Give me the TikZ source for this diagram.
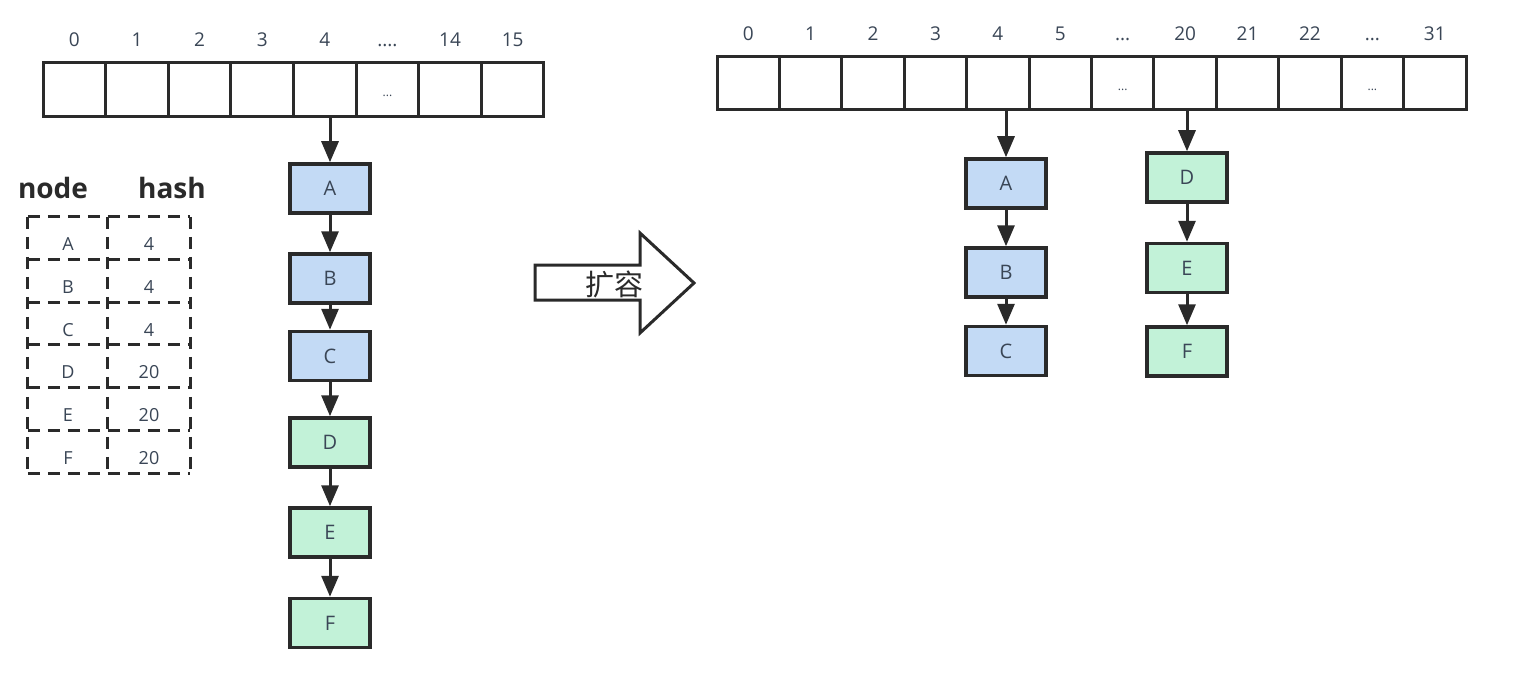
\documentclass[tikz,border=0pt]{standalone}
\usepackage{fontspec}
\setmainfont{Open Sans}
\newfontfamily\cjk{Noto Sans CJK SC}
\usetikzlibrary{arrows.meta}
\definecolor{lineC}{HTML}{2A2A2A}
\definecolor{textC}{HTML}{3A4656}
\definecolor{blueF}{HTML}{C3DAF5}
\definecolor{greenF}{HTML}{C2F2D8}
\newcommand{\dotsfour}{....}
\newcommand{\dotsthree}{...}
\begin{document}
\begin{tikzpicture}[x=1pt,y=-1pt,
  arrcell/.style={draw=lineC, line width=3pt, minimum width=62.6pt, minimum height=54pt, inner sep=0pt, outer sep=0pt},
  celldots/.style={font=\fontsize{12}{12}\selectfont, text=textC, text height=14pt, text depth=0pt},
  idx/.style={font=\fontsize{19}{19}\selectfont, text=textC, anchor=base, inner sep=0pt},
  listnode/.style={draw=lineC, line width=3.5pt, minimum width=80pt, minimum height=49pt, inner sep=0pt, font=\fontsize{20}{20}\selectfont, text=textC},
  bluenode/.style={listnode, fill=blueF},
  greennode/.style={listnode, fill=greenF},
  conn/.style={draw=lineC, line width=3pt, -{Triangle[width=17pt,length=21pt]}},
  tabcell/.style={inner sep=0pt, font=\fontsize{18}{18}\selectfont, text=textC, text height=25pt, text depth=0pt, minimum height=42.67pt},
  tabline/.style={draw=lineC, line width=3pt, dash pattern=on 12pt off 8pt},
  tabhead/.style={font=\bfseries\fontsize{28}{28}\selectfont, text=lineC, anchor=base, inner sep=0pt}
]
\fill[white] (0,0) rectangle (1524,674);
\useasboundingbox (0,0) rectangle (1524,674);

% ---------- left array (16 slots) ----------
\foreach \i in {0,1,2,3,4,6,7}
  \node[arrcell] (L\i) at ({43+62.625*(\i+0.5)},90) {};
\node[arrcell, celldots] (L5) at ({43+62.625*5.5},90) {\dotsthree};
\foreach \i/\lab in {0/0,1/1,2/2,3/3,4/4,5/\dotsfour,6/14,7/15}
  \node[idx] (LI\i) at ({43+62.625*(\i+0.5)},47) {\lab};

% ---------- left chain ----------
\node[bluenode]  (lA) at (330,188.5) {A};
\node[bluenode]  (lB) at (330,278.5) {B};
\node[bluenode]  (lC) at (330,356)   {C};
\node[greennode] (lD) at (330,442.5) {D};
\node[greennode] (lE) at (330,532.5) {E};
\node[greennode] (lF) at (330,623)   {F};
\draw[conn] (L4.south -| lA.north) -- (lA.north);
\draw[conn] (lA) -- (lB);
\draw[conn] (lB) -- (lC);
\draw[conn] (lC) -- (lD);
\draw[conn] (lD) -- (lE);
\draw[conn] (lE) -- (lF);

% ---------- node/hash table ----------
\node[tabhead] (hnode) at (53,198) {node};
\node[tabhead] (hhash) at (172,198) {hash};
\foreach \r/\n/\h in {0/A/4,1/B/4,2/C/4,3/D/20,4/E/20,5/F/20} {
  \node[tabcell, minimum width=80pt] (tn\r) at (68,{217+42.67*(\r+0.5)}) {\n};
  \node[tabcell, minimum width=82pt] (th\r) at (149,{217+42.67*(\r+0.5)}) {\h};
  \draw[tabline] (tn\r.north west) -- (tn\r.north east);
  \draw[tabline] (th\r.north west) -- (th\r.north east);
}
\draw[tabline] (tn5.south west) -- (tn5.south east);
\draw[tabline] (th5.south west) -- (th5.south east);
\draw[tabline] (tn0.north west) -- (tn5.south west);
\draw[tabline] (th0.north west) -- (th5.south west);
\draw[tabline] (th0.north east) -- (th5.south east);

% ---------- big arrow ----------
\draw[draw=lineC, line width=3pt, fill=white, line join=miter]
  (535,265) -- (640,265) -- (640,233) -- (694,283) -- (640,333) -- (640,300) -- (535,300) -- cycle;
\node[font=\cjk\fontsize{29}{29}\selectfont, text=lineC, inner sep=0pt] (kr) at (614,284) {扩容};

% ---------- right array (32 slots) ----------
\foreach \i in {0,1,2,3,4,5,7,8,9,11}
  \node[arrcell, minimum width=62.4pt, minimum height=53pt] (R\i) at ({717+62.417*(\i+0.5)},83.5) {};
\foreach \i in {6,10}
  \node[arrcell, celldots, minimum width=62.4pt, minimum height=53pt] (R\i) at ({717+62.417*(\i+0.5)},83.5) {\dotsthree};
\foreach \i/\lab in {0/0,1/1,2/2,3/3,4/4,5/5,6/\dotsthree,7/20,8/21,9/22,10/\dotsthree,11/31}
  \node[idx] (RI\i) at ({717+62.417*(\i+0.5)},41) {\lab};

% ---------- right chains ----------
\node[bluenode]  (rA) at (1006,183.5) {A};
\node[bluenode]  (rB) at (1006,272.5) {B};
\node[bluenode]  (rC) at (1006,351)   {C};
\node[greennode] (rD) at (1187,177.5) {D};
\node[greennode] (rE) at (1187,268)   {E};
\node[greennode] (rF) at (1187,351.5) {F};
\draw[conn] (R4.south -| rA.north) -- (rA.north);
\draw[conn] (rA) -- (rB);
\draw[conn] (rB) -- (rC);
\draw[conn] (R7.south -| rD.north) -- (rD.north);
\draw[conn] (rD) -- (rE);
\draw[conn] (rE) -- (rF);
\end{tikzpicture}
\end{document}
